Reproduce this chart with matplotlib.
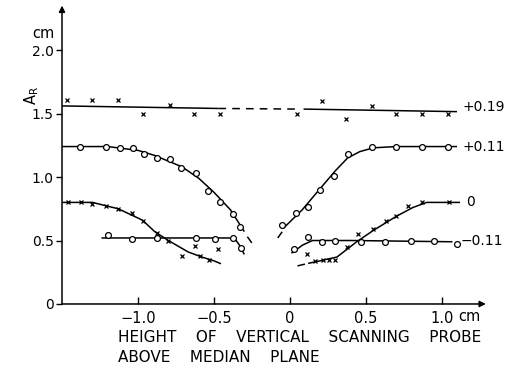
import matplotlib
matplotlib.use("Agg")
import matplotlib.pyplot as plt

# Daten
# -----------------------------------------------------------------------------

# Messpunkte +0.19 (Kreuze)
p019_x = [-1.47, -1.30, -1.13, -0.97, -0.79, -0.63, -0.46, 0.05, 0.21, 0.37, 0.54, 0.70, 0.87, 1.04]
p019_y = [1.61, 1.61, 1.61, 1.50, 1.57, 1.50, 1.50, 1.50, 1.60, 1.46, 1.56, 1.50, 1.50, 1.50]

# Messpunkte +0.11 (Kreise)
p011_lx = [-1.38, -1.21, -1.12, -1.03, -0.96, -0.875, -0.79, -0.72, -0.62, -0.54, -0.46, -0.375, -0.33]
p011_ly = [1.24, 1.24, 1.23, 1.23, 1.18, 1.15, 1.14, 1.07, 1.03, 0.89, 0.80, 0.71, 0.61]
p011_rx = [-0.05, 0.04, 0.12, 0.20, 0.29, 0.38, 0.54, 0.70, 0.87, 1.04]
p011_ry = [0.62, 0.72, 0.76, 0.90, 1.01, 1.18, 1.24, 1.24, 1.24, 1.24]

# Messpunkte 0 (Kreuze)
p0_lx = [-1.46, -1.375, -1.30, -1.21, -1.13, -1.04, -0.97, -0.875, -0.80, -0.71, -0.625, -0.59, -0.53, -0.47]
p0_ly = [0.80, 0.80, 0.79, 0.77, 0.75, 0.72, 0.65, 0.56, 0.50, 0.38, 0.46, 0.38, 0.35, 0.43]
p0_rx = [0.11, 0.165, 0.22, 0.26, 0.30, 0.375, 0.45, 0.55, 0.63, 0.70, 0.78, 0.87, 1.05]
p0_ry = [0.39, 0.34, 0.35, 0.35, 0.35, 0.45, 0.55, 0.59, 0.65, 0.69, 0.77, 0.80, 0.80]

# Messpunkte -0.11 (Kreise)
pm011_lx = [-1.20, -1.04, -0.875, -0.62, -0.49, -0.375, -0.32]
pm011_ly = [0.54, 0.51, 0.52, 0.52, 0.51, 0.52, 0.44]
pm011_rx = [0.03, 0.12, 0.21, 0.30, 0.47, 0.625, 0.80, 0.95, 1.10]
pm011_ry = [0.43, 0.53, 0.49, 0.50, 0.49, 0.49, 0.50, 0.50, 0.47]

# Handgezeichnete Kurven (Stuetzpunkte aus dem Bild)
c019_lx, c019_ly = [-1.5, -0.47], [1.56, 1.54]
c019_dx, c019_dy = [-0.47, 0.07], [1.54, 1.535]
c019_rx, c019_ry = [0.09, 1.10], [1.535, 1.515]

c011_lx = [-1.5, -1.2, -1.0, -0.89, -0.71, -0.6, -0.5, -0.39, -0.30]
c011_ly = [1.24, 1.24, 1.21, 1.17, 1.08, 0.99, 0.88, 0.74, 0.57]
c011_ldx, c011_ldy = [-0.28, -0.25], [0.53, 0.48]
c011_rdx, c011_rdy = [-0.08, -0.05], [0.52, 0.57]
c011_rx = [-0.04, 0.08, 0.2, 0.3, 0.38, 0.46, 0.55, 0.7, 1.10]
c011_ry = [0.60, 0.74, 0.91, 1.05, 1.15, 1.20, 1.23, 1.24, 1.24]

c0_lx = [-1.5, -1.3, -1.13, -0.97, -0.89, -0.80, -0.67, -0.58, -0.50]
c0_ly = [0.80, 0.80, 0.75, 0.66, 0.57, 0.50, 0.41, 0.37, 0.34]
c0_ldx, c0_ldy = [-0.50, -0.44], [0.34, 0.31]
c0_rdx, c0_rdy = [0.05, 0.12], [0.30, 0.32]
c0_rx = [0.12, 0.2, 0.31, 0.44, 0.55, 0.70, 0.81, 0.90, 1.12]
c0_ry = [0.32, 0.34, 0.37, 0.49, 0.58, 0.69, 0.76, 0.80, 0.80]

cm011_lx = [-1.24, -0.40, -0.36, -0.33, -0.30]
cm011_ly = [0.52, 0.52, 0.51, 0.46, 0.39]
cm011_rx = [0.01, 0.085, 0.15, 0.40, 1.07]
cm011_ry = [0.40, 0.465, 0.50, 0.50, 0.49]

# Kurvenbeschriftung: Text, x, y
kurven_labels = [("+0.19", 1.135, 1.55), ("+0.11", 1.135, 1.24), ("0", 1.16, 0.80), ("\u22120.11", 1.12, 0.50)]

x_ticks = [-1.0, -0.5, 0, 0.5, 1.0]
x_ticklabels = ["\u22121.0", "\u22120.5", "0", "0.5", "1.0"]
y_ticks = [0, 0.5, 1.0, 1.5, 2.0]
y_ticklabels = ["0", "0.5", "1.0", "1.5", "2.0"]

# Plot
# -----------------------------------------------------------------------------

plt.rcParams['font.family'] = ['DejaVu Sans']
fig = plt.figure(figsize=(5.07, 3.67), dpi=100)
ax = fig.add_axes([0.1223, 0.1717, 0.839, 0.813])
ax.set_xlim(-1.5, 1.3)
ax.set_ylim(0, 2.35)

lw = 1.1
for xs, ys in [(c019_lx, c019_ly), (c019_rx, c019_ry), (c011_lx, c011_ly), (c011_rx, c011_ry),
               (c0_lx, c0_ly), (c0_rx, c0_ry), (cm011_lx, cm011_ly), (cm011_rx, cm011_ry)]:
    ax.plot(xs, ys, color="black", lw=lw, solid_capstyle="butt")
for xs, ys in [(c019_dx, c019_dy), (c011_ldx, c011_ldy), (c011_rdx, c011_rdy),
               (c0_ldx, c0_ldy), (c0_rdx, c0_rdy)]:
    ax.plot(xs, ys, color="black", lw=lw, linestyle=(0, (5, 4)))

for xs, ys in [(p019_x, p019_y), (p0_lx, p0_ly), (p0_rx, p0_ry)]:
    ax.plot(xs, ys, linestyle="none", marker="x", ms=3.5, mew=0.9, color="black")
for xs, ys in [(p011_lx, p011_ly), (p011_rx, p011_ry), (pm011_lx, pm011_ly), (pm011_rx, pm011_ry)]:
    ax.plot(xs, ys, linestyle="none", marker="o", ms=4.2, mew=0.9, mfc="white", mec="black")

for text, x, y in kurven_labels:
    ax.text(x, y, text, fontsize=10, va="center", ha="left")

# Achsen mit Pfeilen
for s in ax.spines.values():
    s.set_visible(False)
ax.annotate("", xy=(1.29, 0), xytext=(-1.5, 0),
            arrowprops=dict(arrowstyle="-|>", color="black", lw=1.1, mutation_scale=9,
                            shrinkA=0, shrinkB=0), annotation_clip=False)
ax.annotate("", xy=(-1.5, 2.35), xytext=(-1.5, 0),
            arrowprops=dict(arrowstyle="-|>", color="black", lw=1.1, mutation_scale=9,
                            shrinkA=0, shrinkB=0), annotation_clip=False)

ax.set_xticks(x_ticks)
ax.set_xticklabels(x_ticklabels)
ax.set_yticks(y_ticks)
ax.set_yticklabels(y_ticklabels)
ax.tick_params(axis="x", direction="in", length=5, width=1, labelsize=10.5, pad=5)
ax.tick_params(axis="y", direction="out", length=4, width=1, labelsize=10, pad=2)

ax.text(-1.62, 2.13, "cm", fontsize=10.5, ha="center", va="center")
ax.text(1.18, -0.10, "cm", fontsize=10.5, ha="center", va="center")
ax.text(-1.70, 1.64, "A$_\\mathregular{R}$", fontsize=10.5, rotation=90, ha="center", va="center")

fig.text(118 / 507, 1 - 337 / 367, "HEIGHT    OF    VERTICAL    SCANNING    PROBE", fontsize=11, va="center", ha="left")
fig.text(118 / 507, 1 - 357 / 367, "ABOVE    MEDIAN    PLANE", fontsize=11, va="center", ha="left")

fig.savefig("out.png", dpi=100)
